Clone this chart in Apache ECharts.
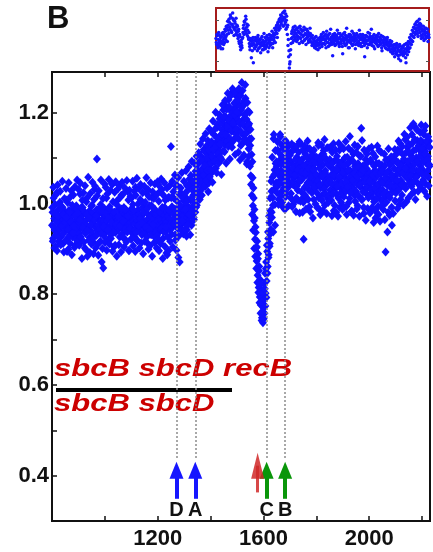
<!DOCTYPE html>
<html>
<head>
<meta charset="utf-8">
<script src="https://cdn.jsdelivr.net/npm/echarts@6/dist/echarts.min.js"></script>
<style>
  html, body { margin: 0; padding: 0; background: #fff; }
  #chart { width: 433px; height: 552px; }
</style>
</head>
<body>
<div id="chart"></div>
<script>
// probes start at 800 and step by 2; the second set sits on the odd positions
const posStart = 800
const posStep = 2

// normalised read ratio, even probes
const ratio = [
  0.952,0.981,0.923,1.012,0.967,0.941,0.998,0.905,0.973,1.024,0.958,0.934,0.987,0.916,0.969,1.003,0.948,0.927,0.975,0.961,0.992,0.912,0.955,0.984,0.938,
  0.966,0.947,1.008,0.921,0.974,0.953,0.899,0.985,0.962,0.931,1.015,0.944,0.971,0.958,0.926,0.989,0.952,0.937,0.976,0.908,0.963,0.995,0.941,0.968,0.929,
  0.957,0.982,0.934,1.021,0.949,0.973,0.918,0.965,0.991,0.943,0.956,0.979,0.902,0.961,0.938,1.004,0.952,0.884,0.971,0.946,0.983,0.925,0.966,0.951,0.994,
  0.937,0.962,0.978,0.915,0.955,1.031,0.948,0.972,0.929,0.986,1.098,0.941,0.967,0.912,0.979,0.953,0.935,0.998,0.962,0.871,0.945,0.976,0.858,0.961,0.989,
  0.954,0.973,0.938,1.012,0.962,0.947,0.985,0.921,0.968,0.993,0.951,0.932,0.977,0.959,1.042,0.943,0.966,0.904,0.981,0.957,0.936,0.972,0.948,1.006,0.963,
  0.941,0.988,0.955,0.926,0.974,0.962,1.018,0.947,0.933,0.979,0.956,0.991,0.923,0.968,0.945,0.983,0.959,0.938,1.027,0.964,0.951,0.897,0.976,0.958,0.987,
  0.946,0.969,0.934,0.998,0.961,0.982,0.927,0.955,1.036,0.973,0.944,0.963,0.918,0.986,0.952,0.975,0.939,1.009,0.958,0.971,0.931,0.964,0.992,0.947,0.979,
  0.956,0.935,0.984,1.024,0.962,0.943,0.977,0.911,0.968,0.953,0.995,0.939,0.972,0.958,1.013,0.946,0.981,0.929,0.966,0.951,0.987,0.943,0.974,0.902,0.961,
  0.978,0.952,1.005,0.937,0.969,0.984,0.944,0.962,1.031,0.957,0.923,0.976,0.951,0.992,0.965,0.938,0.983,0.959,0.887,0.972,0.949,1.014,0.966,0.943,0.981,
  1.126,0.962,0.993,0.947,0.978,1.012,0.955,0.969,0.931,0.986,0.958,1.041,0.973,0.946,0.881,0.994,0.963,0.979,0.952,1.023,0.968,0.941,0.988,0.974,1.006,
  0.959,0.983,1.015,0.966,0.997,0.942,0.978,1.029,0.961,0.991,1.054,0.973,1.008,0.985,0.952,1.037,0.994,1.018,0.969,1.046,1.002,0.981,1.063,1.024,0.996,
  1.041,1.073,1.015,1.058,1.092,1.027,1.066,1.049,1.103,1.034,1.078,1.061,1.119,1.052,1.087,1.038,1.095,1.071,1.128,1.064,1.083,1.109,1.046,1.097,1.075,
  1.112,1.088,1.136,1.069,1.124,1.101,1.152,1.093,1.131,1.117,1.078,1.146,1.122,1.168,1.104,1.139,1.125,1.187,1.113,1.151,1.134,1.097,1.162,1.141,1.206,
  1.148,1.173,1.129,1.192,1.157,1.214,1.138,1.176,1.163,1.229,1.145,1.188,1.171,1.132,1.203,1.159,1.182,1.247,1.166,1.195,1.143,1.211,1.178,1.154,1.236,
  1.187,1.162,1.219,1.143,1.198,1.241,1.174,1.128,1.206,1.267,1.183,1.152,1.224,1.107,1.195,1.169,1.232,1.138,1.186,1.092,1.158,1.204,1.121,1.176,1.143,
  1.128,1.061,1.143,1.018,1.092,0.995,1.034,0.962,0.987,0.921,0.948,0.902,0.873,0.917,0.842,0.889,0.815,0.861,0.794,0.832,0.776,0.811,0.748,0.792,0.737,
  0.771,0.823,0.758,0.846,0.802,0.871,0.829,0.894,0.861,0.923,0.887,0.958,0.912,0.984,0.943,1.027,0.969,1.058,0.996,1.143,1.031,1.074,0.952,1.088,1.046,
  1.082,1.037,1.118,1.064,1.009,1.095,1.051,1.147,1.073,1.026,1.104,1.058,0.992,1.086,1.041,1.123,1.067,1.015,1.098,1.054,1.132,1.079,1.036,1.107,1.061,
  1.044,1.093,1.022,1.071,1.115,1.049,0.998,1.084,1.057,1.126,1.038,1.076,1.012,1.102,1.063,1.029,1.089,1.047,1.136,1.068,1.005,1.081,1.052,1.097,0.981,
  1.058,0.921,1.074,1.036,1.109,1.062,1.013,1.088,1.045,1.121,1.031,1.069,0.993,1.097,1.054,1.028,1.083,1.042,1.114,1.065,1.009,1.076,1.051,1.102,1.037,
  1.063,1.024,1.091,1.047,1.128,1.058,0.987,1.079,1.035,1.106,1.066,1.018,1.085,1.043,1.117,1.054,0.996,1.072,1.039,1.098,1.061,1.012,1.087,1.045,1.123,
  1.052,1.029,1.081,1.007,1.064,1.113,1.041,1.076,0.984,1.058,1.095,1.033,1.069,1.021,1.104,1.047,0.972,1.083,1.056,1.118,1.035,1.071,1.002,1.062,1.093,
  1.038,1.077,1.015,1.059,1.101,1.026,1.068,0.994,1.049,1.087,1.031,1.122,1.054,1.011,1.073,1.042,1.096,0.983,1.061,1.035,1.109,1.047,1.019,1.082,1.056,
  1.027,1.072,1.043,0.995,1.088,1.051,1.016,1.079,1.037,1.104,1.166,1.046,1.009,1.083,1.058,0.978,1.069,1.032,1.097,1.054,1.021,1.076,0.989,1.063,1.041,
  1.018,1.067,1.034,1.092,0.986,1.053,1.025,1.111,1.047,1.004,1.072,1.036,0.968,1.058,1.089,1.022,1.063,0.994,1.041,1.117,1.029,1.075,1.008,1.052,1.085,
  1.031,1.069,0.997,1.046,1.083,1.015,0.893,1.058,1.024,1.096,1.039,0.981,1.072,1.049,1.013,1.088,1.035,1.064,0.952,1.057,1.102,1.028,1.077,1.043,1.006,
  1.061,1.094,1.027,1.073,1.118,1.045,1.086,0.998,1.066,1.132,1.051,1.089,1.019,1.076,1.108,1.043,1.095,1.062,1.141,1.033,1.081,1.057,1.124,1.069,1.012,
  1.087,1.053,1.129,1.074,1.106,1.038,1.152,1.081,1.063,1.117,1.026,1.095,1.168,1.058,1.101,1.072,1.139,1.044,1.089,1.121,1.066,1.157,1.083,1.035,1.112,
  1.076,1.134,1.052,1.098,1.161,1.067,1.115,1.043,1.089,1.127,1.071,1.104,1.058,1.138,1.082
]

// normalised read ratio, odd probes
const ratioOdd = [
  0.991,0.917,1.036,0.948,0.902,0.979,1.018,0.931,0.961,0.896,1.041,0.972,0.925,0.999,0.944,1.027,0.909,0.985,0.951,1.049,0.932,0.976,0.893,1.011,0.958,
  0.918,1.033,0.969,0.894,1.002,0.943,1.046,0.927,0.981,0.912,0.959,1.028,0.887,0.996,0.935,1.019,0.951,0.903,1.037,0.974,0.921,0.988,1.052,0.916,0.979,
  1.031,0.908,0.963,1.045,0.926,0.991,0.879,1.007,0.947,1.024,0.915,0.982,1.039,0.934,0.898,0.977,1.013,0.941,1.058,0.919,0.968,0.892,1.022,0.953,0.911,
  0.996,1.047,0.924,0.889,1.009,0.963,1.038,0.902,0.973,0.931,1.017,0.952,0.886,1.028,0.944,0.991,0.917,1.052,0.935,0.983,0.901,1.011,0.949,0.928,1.043,
  0.914,1.036,0.979,0.897,1.021,0.942,0.968,1.053,0.911,0.987,1.029,0.923,0.958,1.044,0.895,1.004,0.936,0.981,1.025,0.908,1.048,0.953,0.884,0.996,1.032,
  0.972,0.909,1.039,0.951,1.014,0.893,0.988,1.047,0.926,0.961,1.022,0.904,1.035,0.944,0.987,0.915,1.051,0.938,0.972,1.008,0.896,1.029,0.945,1.016,0.921,
  1.012,0.924,1.049,0.907,0.985,1.027,0.941,0.894,1.018,0.936,1.056,0.918,0.999,0.951,1.033,0.902,0.967,1.042,0.913,1.003,0.957,1.024,0.889,0.983,1.038,
  0.917,1.003,0.948,1.057,0.926,0.989,1.031,0.899,1.015,0.942,0.907,1.046,0.931,0.995,0.884,1.026,0.953,1.011,0.914,1.043,0.935,0.978,1.019,0.929,1.048,
  0.923,1.041,0.896,0.982,1.027,0.912,1.054,0.946,0.991,0.879,1.019,0.937,1.046,0.905,1.008,0.948,0.891,1.034,0.927,1.012,0.896,0.985,1.039,0.917,0.954,
  1.013,0.932,1.049,0.904,1.026,0.955,0.988,1.063,0.919,1.038,0.897,1.005,0.946,1.057,0.928,1.021,0.871,0.996,1.034,0.941,1.068,0.962,1.012,0.933,1.049,
  1.021,0.944,0.987,1.072,0.928,1.039,1.007,0.953,1.081,0.976,1.044,0.931,1.062,1.011,1.093,0.985,1.049,1.027,0.964,1.088,1.034,1.071,0.992,1.104,1.056,
  1.086,1.024,1.112,1.055,1.009,1.131,1.048,1.096,1.018,1.075,1.143,1.063,1.037,1.115,1.082,1.154,1.051,1.102,1.073,1.139,1.026,1.118,1.165,1.059,1.134,
  1.073,1.158,1.104,1.047,1.182,1.119,1.076,1.163,1.094,1.201,1.127,1.068,1.174,1.109,1.143,1.089,1.196,1.131,1.102,1.177,1.064,1.153,1.218,1.116,1.185,
  1.191,1.114,1.227,1.152,1.089,1.208,1.169,1.243,1.126,1.184,1.213,1.098,1.237,1.161,1.196,1.124,1.253,1.178,1.139,1.221,1.196,1.108,1.244,1.164,1.201,
  1.146,1.229,1.113,1.253,1.179,1.096,1.238,1.158,1.211,1.132,1.249,1.176,1.104,1.218,1.141,1.262,1.154,1.199,1.087,1.223,1.133,1.172,1.104,1.201,1.082,
  1.163,1.042,1.108,0.976,1.057,0.941,1.012,0.901,0.968,0.883,0.936,0.857,0.904,0.826,0.878,0.804,0.852,0.781,0.823,0.758,0.806,0.742,0.783,0.761,0.803,
  0.746,0.789,0.812,0.774,0.856,0.793,0.908,0.846,0.937,0.881,0.972,0.906,1.012,0.934,1.049,0.981,1.102,1.013,0.937,1.152,1.064,0.998,1.117,1.041,1.092,
  1.024,1.136,1.071,0.998,1.112,1.045,1.152,1.017,1.088,1.129,1.003,1.067,1.121,1.034,1.094,0.987,1.139,1.058,1.022,1.116,1.043,1.085,0.995,1.128,1.071,
  1.107,1.012,1.068,1.131,0.993,1.078,1.041,1.119,1.004,1.063,1.097,0.982,1.125,1.039,1.074,1.007,1.113,1.051,0.979,1.094,1.132,1.026,1.069,1.011,1.118,
  1.003,1.084,1.127,1.019,1.066,0.988,1.103,1.041,1.138,1.009,1.077,1.046,1.121,0.982,1.059,1.106,1.024,1.091,0.968,1.075,1.118,1.037,1.089,0.999,1.064,
  1.102,0.991,1.049,1.134,1.013,1.078,1.041,0.975,1.096,1.129,1.007,1.061,0.984,1.109,1.032,1.141,1.068,1.021,1.095,0.978,1.123,1.046,1.002,1.084,1.018,
  1.097,1.008,1.124,1.045,0.973,1.089,1.021,1.132,1.063,0.996,1.041,1.118,0.981,1.075,1.038,1.094,1.012,1.133,1.059,0.991,1.087,1.024,1.126,1.046,0.987,
  1.069,1.121,0.992,1.084,1.028,1.137,1.047,0.976,1.102,1.036,1.073,1.002,1.091,1.148,1.024,1.061,0.983,1.115,1.052,1.093,0.974,1.066,1.129,1.005,1.078,
  1.113,0.988,1.059,1.126,1.017,1.081,0.972,1.104,1.042,1.067,1.009,1.139,1.074,1.026,0.991,1.118,1.048,1.086,0.963,1.052,1.109,1.034,1.092,1.013,1.121,
  1.049,0.979,1.096,1.031,1.124,0.991,1.063,1.012,0.958,1.082,1.035,1.103,0.983,1.069,1.011,1.127,1.042,0.976,1.088,1.021,0.961,1.067,1.113,0.994,1.046,
  1.073,0.987,1.021,1.109,0.964,1.057,1.096,1.003,1.068,0.937,1.042,1.121,1.017,0.974,1.086,1.039,1.103,0.992,1.061,1.026,0.978,1.094,1.052,1.119,1.035,
  1.023,1.109,1.052,0.989,1.091,1.138,1.031,1.074,1.114,1.009,1.083,1.041,1.126,1.067,0.997,1.098,1.153,1.036,1.078,1.112,1.004,1.146,1.059,1.093,1.131,
  1.044,1.112,1.167,1.061,1.098,1.021,1.133,1.074,1.176,1.048,1.087,1.141,1.009,1.119,1.058,1.162,1.093,1.027,1.128,1.071,1.104,1.041,1.139,1.173,1.066,
  1.121,1.048,1.094,1.152,1.027,1.109,1.171,1.063,1.138,1.016,1.097,1.147,1.039,1.086,1.124
]

// whole-genome overview shown in the inset (two interleaved probe sets)
const overviewRatio = [
  1.02,0.96,1.05,0.93,1.08,0.99,0.94,1.03,0.97,1.07,0.92,1.01,1.06,0.98,1.09,1.04,1.12,0.99,1.15,1.07,
  1.18,1.11,1.23,1.09,1.16,1.27,1.13,1.05,1.19,1.10,1.22,1.08,1.14,1.02,1.11,0.97,1.04,0.91,0.98,0.93,
  1.03,1.12,1.06,1.18,1.09,1.21,1.13,1.05,1.15,1.01,0.97,0.91,1.02,0.83,0.95,1.00,0.78,0.96,0.92,1.03,
  0.94,0.99,0.90,1.05,0.97,0.93,1.01,0.88,0.98,1.04,0.95,0.91,1.07,0.96,0.92,1.00,0.94,1.03,0.89,0.98,
  1.06,0.95,1.01,0.97,1.09,0.93,1.04,1.00,1.12,0.98,1.08,1.15,1.03,1.18,1.10,1.21,1.12,1.25,1.16,1.20,
  1.27,1.14,1.23,1.29,1.18,1.11,1.24,1.06,0.95,0.84,0.73,0.79,0.91,1.02,1.09,0.98,1.13,1.05,1.01,1.10,
  1.07,0.99,1.12,1.04,1.08,0.97,1.14,1.02,1.06,1.10,0.98,1.05,1.13,1.01,1.07,0.96,1.11,1.03,1.08,1.00,
  1.06,1.12,0.99,1.04,0.95,1.02,0.97,1.00,0.93,0.99,1.04,0.95,0.98,0.91,1.01,0.96,1.03,0.99,1.06,0.94,
  1.02,1.08,0.97,1.05,1.00,0.93,1.09,1.03,0.98,1.06,0.95,1.01,1.11,0.99,1.04,0.85,1.02,0.97,1.07,1.00,
  0.96,1.04,1.10,0.98,1.02,0.94,1.07,1.01,0.97,1.05,0.87,1.03,0.99,1.08,0.95,1.02,1.12,0.98,1.04,1.00,
  0.93,1.06,1.01,0.97,1.09,1.03,0.96,1.00,1.05,0.92,1.02,1.07,0.98,1.04,0.95,1.10,1.01,0.97,1.03,0.94,
  1.06,0.99,1.02,0.84,0.97,1.05,1.00,0.93,1.08,1.01,0.96,1.04,0.98,1.11,0.95,1.02,0.99,1.06,0.92,1.03,
  0.97,1.05,1.00,0.94,1.07,0.99,1.03,0.96,1.01,0.90,1.04,0.98,0.95,1.02,0.93,0.99,0.96,1.03,0.91,0.98,
  0.94,1.00,0.89,0.96,0.92,0.87,0.95,0.90,0.84,0.93,0.88,0.97,0.86,0.91,0.82,0.94,0.89,0.80,0.92,0.87,
  0.93,0.85,0.90,0.96,0.88,0.78,0.92,0.86,0.95,0.89,0.98,0.93,1.01,0.96,1.05,0.99,1.08,1.03,1.12,1.06,
  1.15,1.09,1.19,1.04,1.13,1.21,1.08,1.16,1.02,1.11,1.06,1.14,1.00,1.09,1.05,1.12,1.03,1.08,0.99,1.06
]
const overviewRatioOdd = [
  0.98,1.06,0.95,1.01,0.97,1.05,1.00,0.92,1.04,0.99,1.08,0.96,1.03,1.11,1.01,1.14,1.06,1.19,1.10,1.21,
  1.13,1.25,1.16,1.08,1.22,1.14,1.20,1.11,1.17,1.06,1.13,1.15,1.05,1.09,0.99,1.06,0.94,1.00,0.95,1.02,
  1.08,1.15,1.19,1.11,1.24,1.07,1.16,1.10,1.03,1.08,0.94,1.00,0.96,0.99,0.90,1.03,0.97,0.93,1.00,0.95,
  1.01,0.96,1.03,0.92,1.00,0.97,0.94,1.02,0.96,0.91,1.00,0.98,0.94,1.03,0.99,0.95,1.05,0.97,1.01,0.93,
  0.99,1.03,0.96,1.05,1.01,0.97,1.07,1.03,1.06,1.10,1.13,1.07,1.16,1.12,1.19,1.14,1.22,1.18,1.24,1.21,
  1.20,1.28,1.22,1.16,1.26,1.20,1.13,1.15,1.01,0.90,0.77,0.86,0.97,1.07,1.03,1.11,1.00,1.08,1.14,1.03,
  1.11,1.05,1.01,1.09,1.13,1.03,1.07,1.11,0.99,1.09,1.04,1.10,1.00,1.06,1.11,1.02,1.05,1.09,0.98,1.05,
  1.01,1.07,1.03,0.98,1.05,0.97,1.01,0.94,1.03,0.96,0.92,1.00,0.95,1.02,0.97,0.93,1.00,1.04,0.96,1.01,
  0.97,1.04,1.01,0.96,1.06,1.02,0.98,1.04,0.94,1.01,1.07,0.97,1.03,0.96,1.00,1.06,0.98,1.04,0.95,1.02,
  1.05,0.99,1.01,1.07,0.96,1.03,0.98,1.05,1.00,0.94,1.02,1.07,0.97,1.01,1.05,0.96,1.03,1.00,0.93,1.06,
  1.03,0.98,1.05,1.00,0.95,1.02,1.07,0.99,1.03,0.96,1.01,0.97,1.05,0.99,1.03,0.97,1.06,0.94,1.01,1.04,
  0.98,1.05,0.95,1.02,1.00,0.97,1.04,1.00,0.96,1.03,1.07,0.98,1.01,0.96,1.04,0.99,0.94,1.02,0.98,1.00,
  1.02,0.96,1.04,0.99,0.95,1.01,0.97,1.05,0.93,0.98,1.00,0.95,1.03,0.97,1.00,0.92,1.01,0.95,0.98,0.93,
  0.97,0.91,0.95,0.99,0.88,0.93,0.90,0.96,0.91,0.87,0.95,0.89,0.93,0.85,0.90,0.96,0.86,0.91,0.88,0.94,
  0.89,0.95,0.87,0.92,0.83,0.97,0.90,0.94,0.99,0.92,1.03,0.97,1.06,1.00,1.10,1.04,1.13,1.08,1.16,1.11,
  1.18,1.12,1.07,1.15,1.10,1.17,1.12,1.05,1.14,1.09,1.03,1.10,1.07,1.12,1.02,1.08,1.04,1.11,1.06,1.03
]

// marked sites (arrows below the plot)
const siteNames = ['D', 'A', 'C', 'B']
const sitePos = [1271, 1342, 1612, 1682]
const siteColors = ['#1616ff', '#1616ff', '#0a960a', '#0a960a']
const redSitePos = 1578

const xLabels = [1200, 1600, 2000]
const yLabels = [0.4, 0.6, 0.8, 1.0, 1.2]

const FONT = 'Liberation Sans, Arial, sans-serif'

const evenPoints = ratio.map((r, i) => [posStart + posStep * i, r])
const oddPoints = ratioOdd.map((r, i) => [posStart + 1 + posStep * i, r])
const overviewPoints = overviewRatio.map((r, i) => [i, r])
const overviewOddPoints = overviewRatioOdd.map((r, i) => [i + 0.5, r])

const isLabel = (list, v) => list.some(l => Math.abs(l - v) < 1e-6)

const guideLines = sitePos.map(x => [
  { coord: [x, 1.29], symbol: 'none', lineStyle: { color: '#8c8c8c', width: 1.5, type: [2, 2] } },
  { coord: [x, 0.437], symbol: 'none' }
])
const arrowLines = sitePos.map((x, i) => [
  { coord: [x, 0.349], symbol: 'none', lineStyle: { color: siteColors[i], width: 4, type: 'solid' } },
  { coord: [x, 0.412], symbol: 'triangle', symbolSize: [14, 17], itemStyle: { color: siteColors[i] } }
])
arrowLines.push([
  { coord: [redSitePos, 0.363], symbol: 'none', lineStyle: { color: 'rgba(208,40,40,0.85)', width: 3, type: 'solid' } },
  { coord: [redSitePos, 0.422], symbol: 'triangle', symbolSize: [13, 26], itemStyle: { color: 'rgba(208,40,40,0.85)' } }
])

const probeStyle = {
  type: 'scatter',
  xAxisIndex: 0, yAxisIndex: 0,
  symbol: 'diamond',
  symbolSize: [8, 9],
  itemStyle: { color: '#1010ff', opacity: 1 },
  silent: true
}
const overviewStyle = {
  type: 'scatter',
  xAxisIndex: 2, yAxisIndex: 1,
  symbol: 'circle',
  symbolSize: 3.5,
  itemStyle: { color: '#1414ff', opacity: 1 },
  silent: true
}

const chart = echarts.init(document.getElementById('chart'))

chart.setOption({
  animation: false,
  textStyle: { fontFamily: FONT },
  grid: [
    { left: 52, top: 72, width: 378, height: 449, show: true, borderColor: '#111', borderWidth: 2 },
    { left: 216, top: 8, width: 213, height: 63, show: true, borderColor: '#a51c1c', borderWidth: 2, backgroundColor: '#fff' }
  ],
  xAxis: [
    {
      gridIndex: 0, type: 'value', min: 800, max: 2230, interval: 200,
      axisLine: { lineStyle: { color: '#111', width: 2 } },
      axisTick: { inside: true, length: 5, lineStyle: { color: '#111', width: 1.5 } },
      axisLabel: {
        margin: 7, fontSize: 22, fontWeight: 'bold', color: '#111', fontFamily: FONT,
        formatter: v => isLabel(xLabels, v) ? String(v) : ''
      },
      splitLine: { show: false }
    },
    {
      gridIndex: 0, type: 'value', position: 'top', min: 800, max: 2230, interval: 200,
      axisLine: { show: false },
      axisTick: { inside: true, length: 5, lineStyle: { color: '#111', width: 1.5 } },
      axisLabel: { show: false },
      splitLine: { show: false }
    },
    { gridIndex: 1, type: 'value', min: 0, max: overviewRatio.length - 0.5, show: false }
  ],
  yAxis: [
    {
      gridIndex: 0, type: 'value', min: 0.3, max: 1.29, interval: 0.1,
      axisLine: { lineStyle: { color: '#111', width: 2 } },
      axisTick: { inside: true, length: 5, lineStyle: { color: '#111', width: 1.5 } },
      axisLabel: {
        margin: 3, fontSize: 22, fontWeight: 'bold', color: '#111', fontFamily: FONT,
        formatter: v => isLabel(yLabels, v) ? v.toFixed(1) : ''
      },
      splitLine: { show: false }
    },
    {
      gridIndex: 1, type: 'value', min: 0.7, max: 1.32,
      axisLine: { show: false },
      axisTick: { inside: true, length: 3, customValues: [0.8, 1.2], lineStyle: { color: '#555' } },
      axisLabel: { show: false },
      splitLine: { show: false }
    },
    {
      gridIndex: 1, type: 'value', position: 'right', min: 0.7, max: 1.32,
      axisLine: { show: false },
      axisTick: { inside: true, length: 3, customValues: [0.8, 1.2], lineStyle: { color: '#555' } },
      axisLabel: { show: false },
      splitLine: { show: false }
    }
  ],
  series: [
    Object.assign({}, probeStyle, { data: evenPoints }),
    Object.assign({}, probeStyle, {
      data: oddPoints,
      markLine: {
        silent: true,
        symbol: ['none', 'none'],
        label: { show: false },
        data: guideLines.concat(arrowLines)
      },
      markPoint: {
        silent: true,
        symbol: 'circle',
        symbolSize: 1,
        itemStyle: { color: 'rgba(0,0,0,0)' },
        label: {
          show: true, position: 'inside', formatter: '{b}',
          fontSize: 20, fontWeight: 'bold', color: '#111', fontFamily: FONT
        },
        data: siteNames.map((n, i) => ({ name: n, coord: [sitePos[i], 0.323] }))
      }
    }),
    Object.assign({}, overviewStyle, { data: overviewPoints }),
    Object.assign({}, overviewStyle, { data: overviewOddPoints })
  ],
  graphic: [
    {
      type: 'text', x: 47, y: 19,
      style: { text: 'B', font: 'bold 31px ' + FONT, fill: '#111', verticalAlign: 'middle', textVerticalAlign: 'middle' }
    },
    {
      type: 'text', x: 54, y: 370, scaleX: 1.35,
      style: { text: 'sbcB sbcD recB', font: 'italic bold 23px ' + FONT, fill: '#cc0000', verticalAlign: 'middle', textVerticalAlign: 'middle' }
    },
    {
      type: 'rect', shape: { x: 56, y: 388, width: 176, height: 4 },
      style: { fill: '#000' }
    },
    {
      type: 'text', x: 54, y: 405, scaleX: 1.35,
      style: { text: 'sbcB sbcD', font: 'italic bold 23px ' + FONT, fill: '#cc0000', verticalAlign: 'middle', textVerticalAlign: 'middle' }
    }
  ]
})
</script>
</body>
</html>
